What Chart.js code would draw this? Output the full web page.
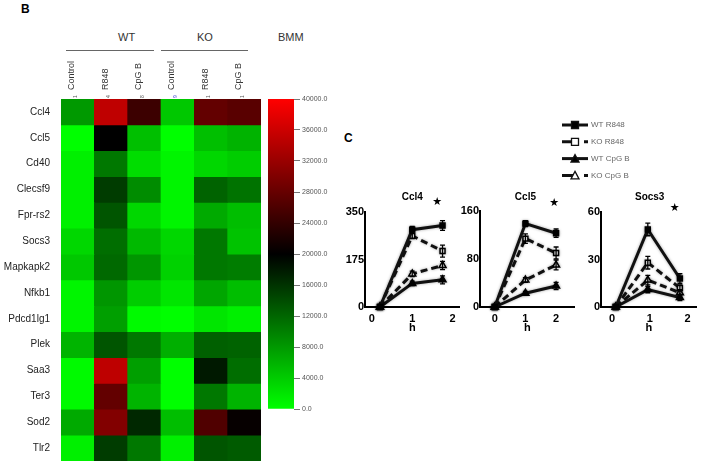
<!DOCTYPE html>
<html>
<head>
<meta charset="utf-8">
<title>BMM heatmap and time course</title>
<script src="https://cdn.jsdelivr.net/npm/chart.js@4.4.1/dist/chart.umd.min.js"></script>
<style>
  body { margin: 0; background: #fff; font-family: "Liberation Sans", Arial, sans-serif; }
  #page { position: relative; width: 702px; height: 465px; overflow: hidden; }
  canvas, .txt, .rule { position: absolute; }
  .txt { color: #333; font-size: 11px; line-height: 11px; white-space: nowrap; }
  .panel { color: #000; font-weight: bold; font-size: 12px; line-height: 12px; }
  .rule { height: 0; border-top: 1px solid #666; }
</style>
</head>
<body>
<div id="page">
  <div class="txt panel" style="left:21px; top:3px;">B</div>
  <div class="txt" style="left:118px; top:32px;">WT</div>
  <div class="txt" style="left:197px; top:32px;">KO</div>
  <div class="txt" style="left:278px; top:32px;">BMM</div>
  <div class="rule" style="left:66px; top:50px; width:88px;"></div>
  <div class="rule" style="left:161px; top:50px; width:87px;"></div>
  <div class="txt panel" style="left:344px; top:132px;">C</div>

  <canvas id="heatmap" width="264" height="465" style="left:0; top:0;"></canvas>
  <canvas id="colorbar" width="80" height="324" style="left:264px; top:92px;"></canvas>
  <canvas id="legend" width="145" height="70" style="left:555px; top:115px;"></canvas>
  <canvas id="ccl4" width="135" height="150" style="left:330px; top:185px;"></canvas>
  <canvas id="ccl5" width="135" height="150" style="left:445px; top:185px;"></canvas>
  <canvas id="socs3" width="136" height="150" style="left:566px; top:185px;"></canvas>
</div>

<script>
// ---- heatmap data (expression, 0 - 40000) ----
const genes = ['Ccl4', 'Ccl5', 'Cd40', 'Clecsf9', 'Fpr-rs2', 'Socs3', 'Mapkapk2',
               'Nfkb1', 'Pdcd1lg1', 'Plek', 'Saa3', 'Ter3', 'Sod2', 'Tlr2'];
const conditions = ['Control', 'R848', 'CpG B', 'Control', 'R848', 'CpG B'];
const conditionNotes = ['1', '4', '8', '9', '1', '1'];

const wtControl = [8000, 0, 1200, 1200, 1200, 3100, 4300, 800, 800, 5900, 400, 400, 6700, 1200];
const wtR848    = [35000, 20000, 10600, 15300, 13300, 11400, 11800, 8200, 7500, 13300, 34900, 27800, 30200, 15300];
const wtCpgB    = [24700, 5000, 2700, 9000, 3100, 5500, 8200, 3900, 400, 10600, 7500, 5900, 16900, 10600];
const koControl = [4300, 0, 800, 800, 800, 3100, 3500, 2000, 0, 6300, 0, 0, 5100, 1200];
const koR848    = [27800, 5000, 3100, 12200, 6700, 10600, 10600, 7000, 2000, 12500, 18000, 10600, 26300, 13300];
const koCpgB    = [27000, 6000, 3900, 11000, 5100, 4700, 10200, 5100, 1200, 12200, 11400, 5900, 20500, 12900];

const scaleTicks = [0, 4000, 8000, 12000, 16000, 20000, 24000, 28000, 32000, 36000, 40000];

// ---- time course data ----
const seriesNames = ['WT R848', 'KO R848', 'WT CpG B', 'KO CpG B'];
const hourTicks = [0, 1, 2];

const ccl4Hours = [0.2, 1, 1.75];
const ccl4Ticks = [0, 175, 350];
const ccl4WtR848 = [0, 285, 300];
const ccl4KoR848 = [0, 262, 206];
const ccl4WtCpgB = [0, 87, 100];
const ccl4KoCpgB = [0, 122, 153];
const ccl4WtR848Err = [0, 12, 18];
const ccl4KoR848Err = [0, 10, 22];
const ccl4WtCpgBErr = [0, 8, 15];
const ccl4KoCpgBErr = [0, 10, 15];

const ccl5Hours = [0, 1, 2];
const ccl5Ticks = [0, 80, 160];
const ccl5WtR848 = [0, 139, 123];
const ccl5KoR848 = [0, 114, 90];
const ccl5WtCpgB = [0, 23, 35];
const ccl5KoCpgB = [0, 45, 70];
const ccl5WtR848Err = [0, 5, 7];
const ccl5KoR848Err = [0, 8, 10];
const ccl5WtCpgBErr = [0, 3, 6];
const ccl5KoCpgBErr = [0, 4, 8];

const socs3Hours = [0.1, 0.95, 1.8];
const socs3Ticks = [0, 30, 60];
const socs3WtR848 = [0, 49, 18];
const socs3KoR848 = [0, 28, 12];
const socs3WtCpgB = [0, 11, 6];
const socs3KoCpgB = [0, 17, 9];
const socs3WtR848Err = [0, 4, 3];
const socs3KoR848Err = [0, 4, 2];
const socs3WtCpgBErr = [0, 2, 2];
const socs3KoCpgBErr = [0, 3, 2];

Chart.defaults.font.family = '"Liberation Sans", Arial, sans-serif';
Chart.defaults.responsive = false;
Chart.defaults.animation = false;
Chart.defaults.plugins.legend.display = false;
Chart.defaults.plugins.tooltip.enabled = false;

// green (low) -> black (middle) -> red (high)
function cellColor(v) {
    const mid = scaleTicks[scaleTicks.length - 1] / 2;
    if (v <= mid) {
        const g = Math.round(255 * (1 - v / mid));
        return 'rgb(0,' + g + ',0)';
    }
    const r = Math.round(255 * (v - mid) / mid);
    return 'rgb(' + r + ',0,0)';
}

// small numbers under the column labels
const conditionNotesPlugin = {
    id: 'conditionNotes',
    afterDraw(chart) {
        const { ctx, chartArea, scales: { x } } = chart;
        ctx.save();
        ctx.font = '5px "Liberation Sans", Arial, sans-serif';
        ctx.textAlign = 'left';
        ctx.textBaseline = 'middle';
        conditionNotes.forEach((note, i) => {
            ctx.save();
            ctx.translate(x.getPixelForValue(i) - 2, chartArea.top - 1);
            ctx.rotate(-Math.PI / 2);
            ctx.fillStyle = i === 3 ? '#3a3ad0' : '#555';
            ctx.fillText(note, 0, 0);
            ctx.restore();
        });
        ctx.restore();
    }
};

function initHeatmap() {
    const columns = [wtControl, wtR848, wtCpgB, koControl, koR848, koCpgB];

    new Chart(document.getElementById('heatmap'), {
        type: 'bar',
        data: {
            labels: conditions,
            datasets: genes.map((gene, row) => ({
                label: gene,
                data: conditions.map(() => 1),
                backgroundColor: columns.map(col => cellColor(col[row])),
                borderWidth: 0,
                barPercentage: 1,
                categoryPercentage: 1
            }))
        },
        options: {
            layout: { padding: { right: 3, bottom: 4 } },
            scales: {
                x: {
                    position: 'top',
                    stacked: true,
                    grid: { display: false, drawTicks: false },
                    border: { display: false },
                    ticks: { minRotation: 90, maxRotation: 90, padding: 9, labelOffset: 5,
                             color: '#333', font: { size: 9 } },
                    afterFit: axis => { axis.height = 99; }
                },
                y: {
                    type: 'linear',
                    stacked: true,
                    reverse: true,
                    min: 0,
                    max: genes.length,
                    grid: { display: false, drawTicks: false },
                    border: { display: false },
                    afterBuildTicks: axis => { axis.ticks = genes.map((g, i) => ({ value: i + 0.5 })); },
                    ticks: { autoSkip: false, padding: 11, color: '#222', font: { size: 10 },
                             callback: (v, i) => genes[i] },
                    afterFit: axis => {
                        axis.width = 61;
                        axis.paddingTop = 0;
                        axis.paddingBottom = 0;
                    }
                }
            }
        },
        plugins: [conditionNotesPlugin]
    });
}

function initColorbar() {
    const top = scaleTicks[scaleTicks.length - 1];

    new Chart(document.getElementById('colorbar'), {
        type: 'bar',
        data: {
            labels: ['BMM'],
            datasets: [{
                data: [top],
                borderWidth: 0,
                barPercentage: 1,
                categoryPercentage: 1,
                backgroundColor: context => {
                    const { chart } = context;
                    const area = chart.chartArea;
                    if (!area) return '#000';
                    const grad = chart.ctx.createLinearGradient(0, area.bottom, 0, area.top);
                    scaleTicks.forEach(v => grad.addColorStop(v / top, cellColor(v)));
                    return grad;
                }
            }]
        },
        options: {
            layout: { padding: { left: 4, top: 7, bottom: 7 } },
            scales: {
                x: { display: false },
                y: {
                    position: 'right',
                    min: 0,
                    max: top,
                    afterBuildTicks: axis => { axis.ticks = scaleTicks.map(v => ({ value: v })); },
                    ticks: { padding: 2, color: '#555', font: { size: 7 }, callback: v => v.toFixed(1) },
                    grid: { drawOnChartArea: false, tickLength: 6, color: '#777' },
                    border: { display: false },
                    afterFit: axis => { axis.width = 50; }
                }
            }
        }
    });
}

const seriesStyles = [
    { dash: [], point: 'rect', open: false },
    { dash: [7, 4], point: 'rect', open: true },
    { dash: [], point: 'triangle', open: false },
    { dash: [7, 4], point: 'triangle', open: true }
];

function lineDataset(i, hours, values, errors) {
    const style = seriesStyles[i];
    return {
        label: seriesNames[i],
        data: hours.map((h, k) => ({ x: h, y: values[k] })),
        errors: errors,
        borderColor: '#111',
        borderWidth: 3,
        borderDash: style.dash,
        pointStyle: style.point,
        pointRadius: style.point === 'triangle' ? 4 : 3.5,
        pointBackgroundColor: style.open ? '#fff' : '#000',
        pointBorderColor: '#000',
        pointBorderWidth: 1.5,
        tension: 0,
        clip: false
    };
}

// soft halo under lines, error bars, title and star
const panelDecor = {
    id: 'panelDecor',
    beforeDatasetsDraw(chart) {
        chart.ctx.save();
        chart.ctx.shadowColor = 'rgba(0,0,0,0.35)';
        chart.ctx.shadowBlur = 3;
    },
    afterDatasetsDraw(chart) {
        const { ctx, scales: { x, y } } = chart;
        ctx.restore();
        ctx.save();
        ctx.strokeStyle = '#000';
        ctx.lineWidth = 1.3;
        chart.data.datasets.forEach(ds => {
            (ds.errors || []).forEach((e, k) => {
                if (!e) return;
                const px = x.getPixelForValue(ds.data[k].x);
                const hi = y.getPixelForValue(ds.data[k].y + e);
                const lo = y.getPixelForValue(ds.data[k].y - e);
                ctx.beginPath();
                ctx.moveTo(px, hi); ctx.lineTo(px, lo);
                ctx.moveTo(px - 2.5, hi); ctx.lineTo(px + 2.5, hi);
                ctx.moveTo(px - 2.5, lo); ctx.lineTo(px + 2.5, lo);
                ctx.stroke();
            });
        });
        ctx.restore();
    },
    afterDraw(chart, args, opts) {
        const { ctx, scales: { x } } = chart;
        ctx.save();
        ctx.fillStyle = '#000';
        ctx.textAlign = 'center';
        ctx.textBaseline = 'middle';
        ctx.font = 'bold 10px "Liberation Sans", Arial, sans-serif';
        ctx.fillText(opts.title, x.getPixelForValue(1), 12);
        ctx.font = '11px "DejaVu Sans", sans-serif';
        ctx.fillText('\u2605', x.getPixelForValue(opts.starAt), opts.starY);
        ctx.restore();
    }
};

function initPanel(id, cfg) {
    new Chart(document.getElementById(id), {
        type: 'line',
        data: {
            datasets: cfg.values.map((vals, i) => lineDataset(i, cfg.hours, vals, cfg.errors[i]))
        },
        options: {
            layout: { padding: { top: cfg.padTop, right: cfg.padRight } },
            plugins: { panelDecor: { title: cfg.title, starAt: cfg.starAt, starY: cfg.starY } },
            scales: {
                x: {
                    type: 'linear',
                    min: cfg.xMin,
                    max: cfg.xMax,
                    afterBuildTicks: axis => { axis.ticks = hourTicks.map(v => ({ value: v })); },
                    ticks: { padding: 5, color: '#000', font: { size: 11, weight: 'bold' } },
                    grid: { display: false, drawTicks: false },
                    border: { color: '#000', width: 2 },
                    title: { display: true, text: 'h', color: '#000', padding: 0,
                             font: { size: 11, weight: 'bold' } },
                    afterFit: axis => { axis.height = 28; }
                },
                y: {
                    min: 0,
                    max: cfg.ticks[cfg.ticks.length - 1],
                    afterBuildTicks: axis => { axis.ticks = cfg.ticks.map(v => ({ value: v })); },
                    ticks: { padding: 1, color: '#000', font: { size: 11, weight: 'bold' } },
                    grid: { display: false, drawTicks: false },
                    border: { color: '#000', width: 2 },
                    afterFit: axis => { axis.width = 35; }
                }
            }
        },
        plugins: [panelDecor]
    });
}

function initLinePanels() {
    initPanel('ccl4', {
        title: 'Ccl4', hours: ccl4Hours, ticks: ccl4Ticks,
        values: [ccl4WtR848, ccl4KoR848, ccl4WtCpgB, ccl4KoCpgB],
        errors: [ccl4WtR848Err, ccl4KoR848Err, ccl4WtCpgBErr, ccl4KoCpgBErr],
        xMin: -0.17, xMax: 2.17, padTop: 27, padRight: 3, starAt: 1.62, starY: 17
    });
    initPanel('ccl5', {
        title: 'Ccl5', hours: ccl5Hours, ticks: ccl5Ticks,
        values: [ccl5WtR848, ccl5KoR848, ccl5WtCpgB, ccl5KoCpgB],
        errors: [ccl5WtR848Err, ccl5KoR848Err, ccl5WtCpgBErr, ccl5KoCpgBErr],
        xMin: -0.48, xMax: 2.6, padTop: 26, padRight: 3, starAt: 1.94, starY: 18
    });
    initPanel('socs3', {
        title: 'Socs3', hours: socs3Hours, ticks: socs3Ticks,
        values: [socs3WtR848, socs3KoR848, socs3WtCpgB, socs3KoCpgB],
        errors: [socs3WtR848Err, socs3KoR848Err, socs3WtCpgBErr, socs3KoCpgBErr],
        xMin: -0.29, xMax: 2.24, padTop: 27, padRight: 5, starAt: 1.66, starY: 23
    });
}

// legend: line sample + marker + name
const lineLegend = {
    id: 'lineLegend',
    afterDraw(chart) {
        const { ctx } = chart;
        ctx.save();
        chart.data.datasets.forEach((ds, i) => {
            const y = 10 + i * 16.8;
            ctx.strokeStyle = '#111';
            ctx.lineWidth = 3;
            ctx.setLineDash(ds.borderDash.length ? [14, 8] : []);
            ctx.beginPath();
            ctx.moveTo(7, y); ctx.lineTo(33, y);
            ctx.stroke();
            ctx.setLineDash([]);
            ctx.fillStyle = ds.pointBackgroundColor;
            ctx.lineWidth = 1.3;
            ctx.beginPath();
            if (ds.pointStyle === 'rect') {
                ctx.rect(16.5, y - 3.5, 7, 7);
            } else {
                ctx.moveTo(20, y - 4); ctx.lineTo(24, y + 3.5); ctx.lineTo(16, y + 3.5); ctx.closePath();
            }
            ctx.fill();
            ctx.stroke();
            ctx.fillStyle = '#666';
            ctx.font = '8px "Liberation Sans", Arial, sans-serif';
            ctx.textAlign = 'left';
            ctx.textBaseline = 'middle';
            ctx.fillText(ds.label, 36, y);
        });
        ctx.restore();
    }
};

function initLegend() {
    new Chart(document.getElementById('legend'), {
        type: 'line',
        data: { datasets: seriesNames.map((name, i) => lineDataset(i, [], [], [])) },
        options: { scales: { x: { display: false }, y: { display: false } } },
        plugins: [lineLegend]
    });
}

document.addEventListener('DOMContentLoaded', () => {
    initHeatmap();
    initColorbar();
    initLinePanels();
    initLegend();
});
</script>
</body>
</html>
